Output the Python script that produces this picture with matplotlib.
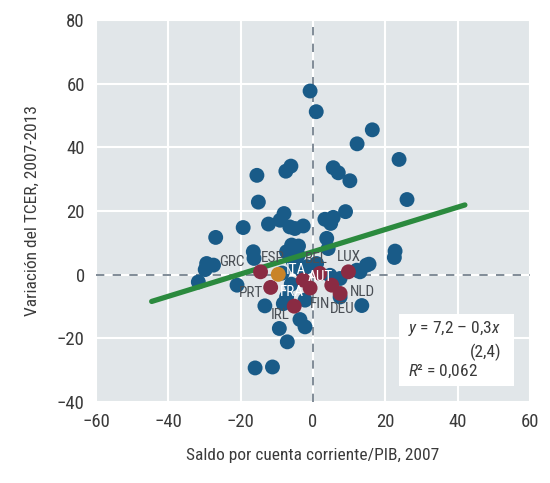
import numpy as np
import matplotlib
matplotlib.use("Agg")
import matplotlib.pyplot as plt
from matplotlib.patches import Rectangle
from matplotlib import font_manager

# pick a narrow face if one is installed
names = {f.name for f in font_manager.fontManager.ttflist}
narrow = [n for n in ['Liberation Sans Narrow', 'DejaVu Sans Condensed', 'Roboto Condensed',
                      'Open Sans Condensed', 'Roboto'] if n in names]
FONT = narrow[0] if narrow else 'DejaVu Sans'
plt.rcParams['font.family'] = [FONT, 'DejaVu Sans']
plt.rcParams['mathtext.fontset'] = 'custom'
plt.rcParams['mathtext.it'] = FONT + ':italic'
plt.rcParams['mathtext.rm'] = FONT

# --- data ---
# all economies (blue)
other_x = [-0.8, 0.9, 16.4, 12.2, 23.8, 26.0, -15.5, -6.1, -7.5, 5.6, 7.0, 10.2,
           -15.1, 9.0, -8.0, -9.1, -12.3, -19.3, -26.9, -6.4, -5.0, -2.7, 3.3, 5.6,
           4.9, 3.8, 4.2, 22.7, 22.5, 15.5, 13.0, -16.5, -16.3, -5.9, -4.0, -7.3,
           -6.4, -4.1, -29.4, -27.5, -29.8, -31.7, -21.0, -16.0, -11.2, -13.3, -9.3,
           -7.1, -3.6, -2.2, 13.5, -7.3, -8.2, -2.2, 7.5, 4.7, 7.5, 12.1, -3.1, 1.0,
           -5.4, -1.7, 14.8, -4.5, -8.5, -6.0]
other_y = [57.7, 51.2, 45.5, 41.1, 36.2, 23.6, 31.2, 34.1, 32.5, 33.6, 32.0, 29.5,
           22.8, 19.8, 19.2, 17.1, 15.9, 14.8, 11.7, 15.0, 14.5, 15.3, 17.4, 18.0,
           16.1, 11.4, 8.2, 7.4, 5.4, 3.3, 0.9, 7.2, 5.1, 9.3, 9.0, 7.2,
           5.6, 6.1, 3.5, 3.0, 1.6, -2.3, -3.3, -29.3, -29.0, -9.8, -16.9,
           -21.1, -14.1, -16.4, -9.7, -7.0, -9.1, -8.0, -7.0, -0.2, -1.2, 1.4, 1.4, 3.5,
           4.0, 2.5, 3.0, 2.5, 0.5, -3.0]

# euro area (red)
euro_x = [-14.5, -11.7, -2.7, -0.8, 1.9, 5.2, 7.5, 9.8, -5.2]
euro_y = [0.9, -4.0, -1.7, -4.2, 0.4, -3.3, -5.9, 0.9, -9.9]

# highlighted economy (orange)
hl_x = [-9.6]
hl_y = [0.1]

# country labels and where they sit
labels = ['GRC', 'ESP', 'ITA', 'BEL', 'LUX', 'PRT', 'FRA', 'AUT', 'NLD', 'FIN', 'DEU', 'IRL']
label_x = [-22.3, -11.2, -4.8, 1.0, 9.8, -17.0, -5.9, 1.9, 13.6, 1.9, 8.2, -9.1]
label_y = [4.0, 5.1, 1.6, 4.8, 5.6, -5.9, -5.4, -0.7, -5.4, -9.1, -10.9, -12.7]
white_labels = ['ITA', 'FRA', 'AUT']

# fitted line
fit_intercept = 7.2
fit_slope = 0.35
fit_range = [-44.6, 42.0]

# colors
BG = '#e1e6e9'
BLUE = '#195b88'
RED = '#8a2b43'
ORANGE = '#c98428'
GREEN = '#2b8a3e'
TXT = '#3a3a3a'

fig = plt.figure(figsize=(5.5, 4.83), dpi=100)
ax = fig.add_axes([0.1745, 0.1677, 0.7891, 0.7909])
ax.set_facecolor(BG)
for s in ax.spines.values():
    s.set_visible(False)

ax.set_xlim(-60, 60)
ax.set_ylim(-40, 80)
ax.set_xticks(np.arange(-60, 61, 20))
ax.set_yticks(np.arange(-40, 81, 20))
ax.set_xticklabels([str(v).replace('-', '\u2212') for v in range(-60, 61, 20)])
ax.set_yticklabels([str(v).replace('-', '\u2212') for v in range(-40, 81, 20)])
ax.tick_params(length=0, labelsize=13.5, labelcolor=TXT, pad=8)
ax.grid(True, color='white', linewidth=1.5)
ax.set_axisbelow(True)

# zero lines
ax.axhline(0, color='#6b7885', linewidth=1.2, linestyle=(0, (5, 5)), zorder=1)
ax.axvline(0, color='#6b7885', linewidth=1.2, linestyle=(0, (5, 5)), zorder=1)

ax.scatter(other_x, other_y, s=115, color=BLUE, edgecolors='none', zorder=2)

fx = np.array(fit_range)
ax.plot(fx, fit_intercept + fit_slope * fx, color=GREEN, linewidth=3.8,
        solid_capstyle='round', zorder=3)

ax.scatter(euro_x, euro_y, s=115, color=RED, edgecolors='none', zorder=4)
ax.scatter(hl_x, hl_y, s=115, color=ORANGE, edgecolors='none', zorder=4)

for name, lx, ly in zip(labels, label_x, label_y):
    c = 'white' if name in white_labels else '#4a4f55'
    ax.text(lx, ly, name, ha='center', va='center', fontsize=11, color=c, zorder=5)

# regression box
ax.add_patch(Rectangle((0.698, 0.042), 0.265, 0.188, transform=ax.transAxes,
                       facecolor='white', edgecolor='none', zorder=5))
ax.text(0.72, 0.193, r'$\it{y}$ = 7,2 – 0,3$\it{x}$', transform=ax.transAxes,
        ha='left', va='center', fontsize=12.5, color=TXT, zorder=6)
ax.text(0.935, 0.131, '(2,4)', transform=ax.transAxes,
        ha='right', va='center', fontsize=12.5, color=TXT, zorder=6)
ax.text(0.72, 0.079, r'$\it{R}$² = 0,062', transform=ax.transAxes,
        ha='left', va='center', fontsize=12.5, color=TXT, zorder=6)

ax.set_xlabel('Saldo por cuenta corriente/PIB, 2007', fontsize=12.5, color=TXT, labelpad=12)
ax.set_ylabel('Variación del TCER, 2007-2013', fontsize=12.5, color=TXT, labelpad=12)

fig.savefig('out.png', dpi=100)
